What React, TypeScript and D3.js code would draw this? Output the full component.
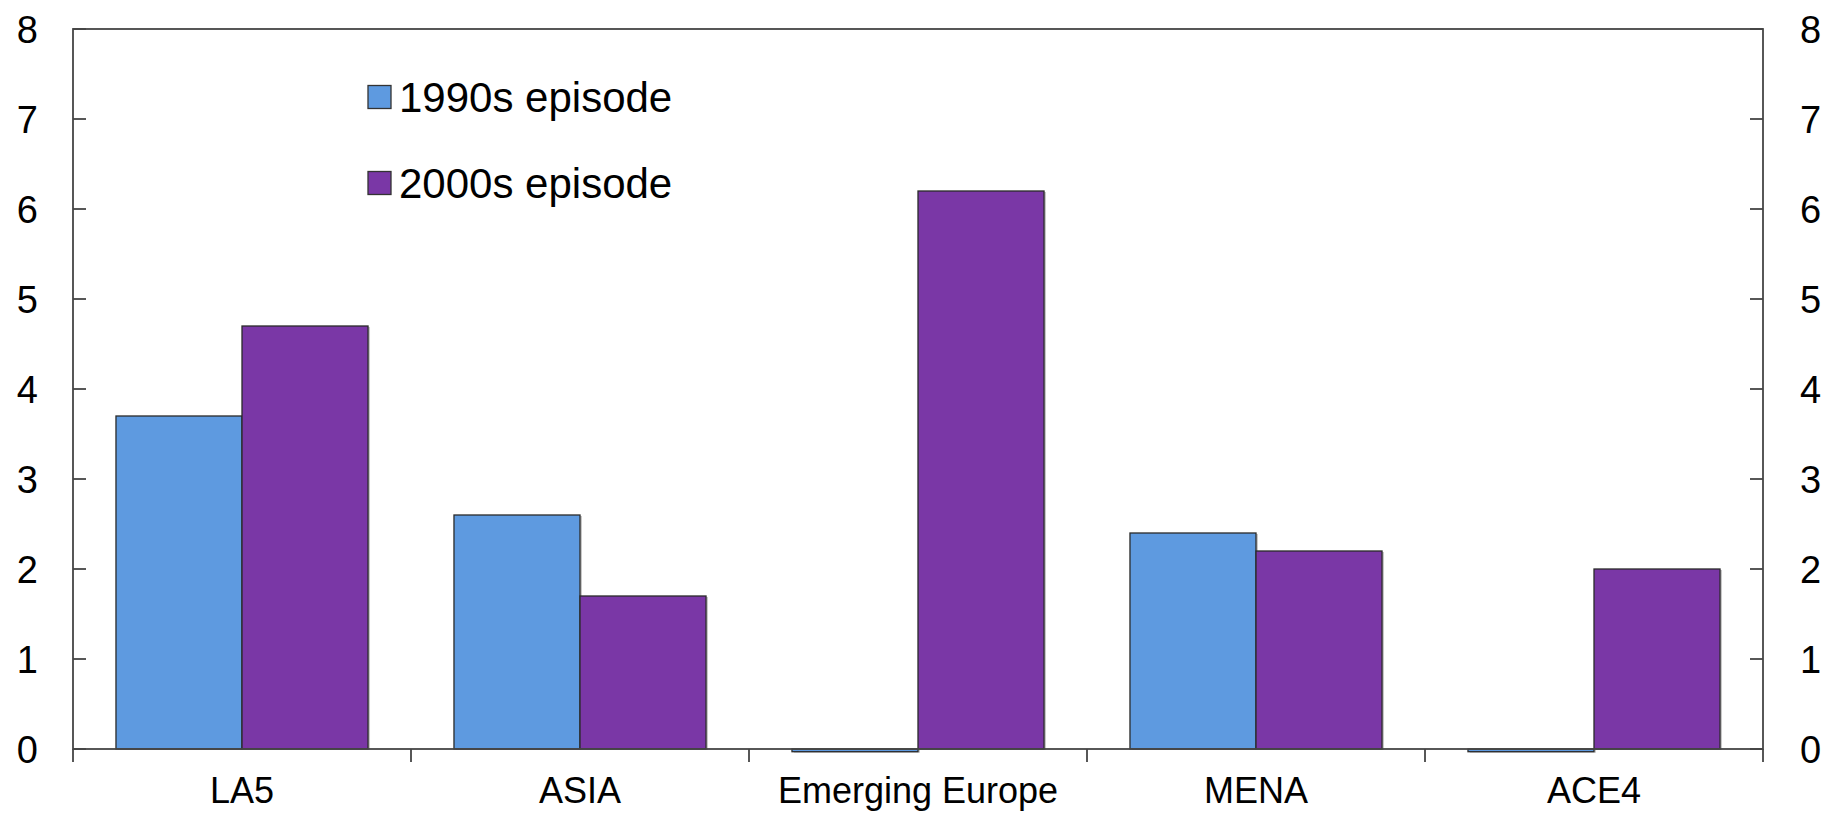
import React from "react";
import * as d3 from "d3";

// Regional averages for the two episodes
const categories = ["LA5", "ASIA", "Emerging Europe", "MENA", "ACE4"];
const seriesNames = ["1990s episode", "2000s episode"];
const episode1990s = [3.7, 2.6, -0.03, 2.4, -0.03];
const episode2000s = [4.7, 1.7, 6.2, 2.2, 2.0];
const yTickValues = [0, 1, 2, 3, 4, 5, 6, 7, 8];
const seriesColors = ["#5E9AE0", "#7A37A6"];

const W = 1827;
const H = 814;
const plot = { left: 73, right: 1763, top: 29, bottom: 749 };
const FONT = "'Liberation Sans', Arial, Helvetica, sans-serif";
const AXIS = "#454545";

export default function App() {
  const x = d3.scaleBand<string>().domain(categories).range([plot.left, plot.right]).padding(0);
  const xInner = d3
    .scaleBand<string>()
    .domain(seriesNames)
    .range([0, x.bandwidth()])
    .paddingInner(0)
    .paddingOuter(0.341);
  const y = d3.scaleLinear().domain([0, 8]).range([plot.bottom, plot.top]);

  const series = [episode1990s, episode2000s];

  const bars = categories.flatMap((c, ci) =>
    seriesNames.map((s, si) => {
      const v = series[si][ci];
      const y0 = y(0);
      const yv = y(v);
      return {
        key: `${c}-${s}`,
        x: (x(c) ?? 0) + (xInner(s) ?? 0),
        y: Math.min(y0, yv),
        w: xInner.bandwidth(),
        h: Math.abs(yv - y0),
        color: seriesColors[si],
      };
    })
  );

  const boundaries = [...categories.map((c) => x(c) ?? 0), plot.right];

  return (
    <svg
      width={W}
      height={H}
      viewBox={`0 0 ${W} ${H}`}
      style={{ position: "absolute", left: 0, top: 0, display: "block", background: "#fff" }}
    >
      {/* bars with a faint shadow */}
      {bars.map((b) => (
        <rect
          key={b.key + "-sh"}
          x={b.x + 2}
          y={b.y + 1}
          width={b.w}
          height={b.h}
          fill="#c8c8c8"
        />
      ))}
      {bars.map((b) => (
        <rect
          key={b.key}
          x={b.x}
          y={b.y}
          width={b.w}
          height={b.h}
          fill={b.color}
          stroke="#2a2a2a"
          strokeWidth={1.3}
        />
      ))}

      {/* plot frame */}
      <rect
        x={plot.left}
        y={plot.top}
        width={plot.right - plot.left}
        height={plot.bottom - plot.top}
        fill="none"
        stroke={AXIS}
        strokeWidth={1.8}
      />

      {/* category boundary ticks below the axis */}
      {boundaries.map((bx, i) => (
        <line key={"xt" + i} x1={bx} x2={bx} y1={plot.bottom} y2={plot.bottom + 13} stroke={AXIS} strokeWidth={1.8} />
      ))}

      {/* y ticks on both sides, pointing inward */}
      {yTickValues.map((t) => (
        <g key={"yt" + t}>
          <line x1={plot.left} x2={plot.left + 13} y1={y(t)} y2={y(t)} stroke={AXIS} strokeWidth={1.8} />
          <line x1={plot.right - 13} x2={plot.right} y1={y(t)} y2={y(t)} stroke={AXIS} strokeWidth={1.8} />
          <text x={38} y={y(t)} dy="0.36em" textAnchor="end" fontFamily={FONT} fontSize={38} fill="#000">
            {t}
          </text>
          <text x={1800} y={y(t)} dy="0.36em" textAnchor="start" fontFamily={FONT} fontSize={38} fill="#000">
            {t}
          </text>
        </g>
      ))}

      {/* category labels */}
      {categories.map((c) => (
        <text
          key={"cl" + c}
          x={(x(c) ?? 0) + x.bandwidth() / 2}
          y={803}
          textAnchor="middle"
          fontFamily={FONT}
          fontSize={36}
          fill="#000"
        >
          {c}
        </text>
      ))}

      {/* legend */}
      {seriesNames.map((s, i) => {
        const cy = 97 + i * 86;
        return (
          <g key={"lg" + s}>
            <rect x={368} y={cy - 11.5} width={23} height={23} fill={seriesColors[i]} stroke="#333" strokeWidth={1.3} />
            <text x={399} y={cy} dy="0.36em" fontFamily={FONT} fontSize={42} fill="#000">
              {s}
            </text>
          </g>
        );
      })}
    </svg>
  );
}
